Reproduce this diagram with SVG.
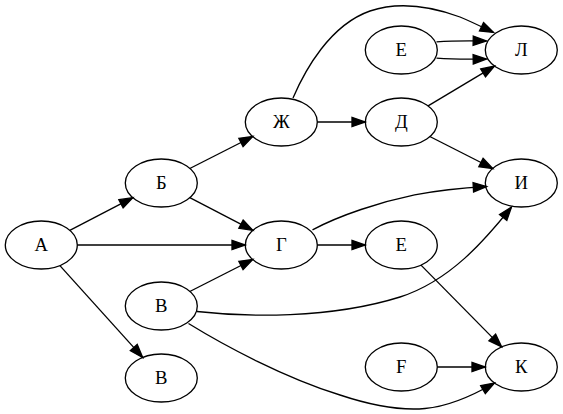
<svg xmlns="http://www.w3.org/2000/svg" width="563" height="414" viewBox="0 0 563 414">
<style>
.n ellipse{fill:none;stroke:#000;stroke-width:1.33}
.n text{font-family:"Liberation Serif","Times New Roman",serif;font-size:18.67px;text-anchor:middle;fill:#000}
.e path{fill:none;stroke:#000;stroke-width:1.33;marker-end:url(#ah)}
</style>
<defs>
<marker id="ah" markerUnits="userSpaceOnUse" markerWidth="16" markerHeight="12" refX="13.3" refY="5" orient="auto" overflow="visible">
<path d="M0,0.33 L13.3,5 L0,9.67 Z" fill="#000" stroke="#000" stroke-width="1.33"/>
</marker>
</defs>
<rect width="563" height="414" fill="#fff"/>
<g id="edges" class="e">
<path d="M69.8,230.3 L132.8,197.7"/>
<path d="M77.3,245 L245.3,245"/>
<path d="M59.9,265.6 L142.7,357.4"/>
<path d="M189.8,168.5 L252.8,136.5"/>
<path d="M189.8,197.7 L252.8,230.3"/>
<path d="M189.8,291.5 L252.8,259.5"/>
<path d="M197,311.5 C245,317 330,319 400,297 C450,281 485,240 511.5,207"/>
<path d="M188.5,323.5 C225,346 285,378 340,395 C370,405 398,411 425,408.5 C448,406.5 472,396 494.5,383"/>
<path d="M317.3,122 L365.3,122"/>
<path d="M293,98 C305,70 330,25 370,11 C400,1 430,6 460,17 C472,22 482,27 493.5,32.5"/>
<path d="M436.5,41.8 C451,40.8 467,40.6 486.5,41"/>
<path d="M436.5,58.2 C451,59.2 467,59.4 486.5,59"/>
<path d="M428.1,105.9 L494.5,66.1"/>
<path d="M429.8,136.5 L492.8,168.5"/>
<path d="M312.5,229.8 C340.5,215 379.8,202.1 414.6,194.9 C440,190 460,188 486.6,186.5"/>
<path d="M317.3,245 L365.3,245"/>
<path d="M421,265.1 L501.6,346.9"/>
<path d="M437.3,367 L485.3,367"/>
</g>
<g id="nA" class="n"><ellipse cx="41.3" cy="245" rx="36" ry="24"/><text x="41.3" y="251">А</text></g>
<g id="nB" class="n"><ellipse cx="161.3" cy="183" rx="36" ry="24"/><text x="161.3" y="189">Б</text></g>
<g id="nV1" class="n"><ellipse cx="161.3" cy="306" rx="36" ry="24"/><text x="161.3" y="312">В</text></g>
<g id="nV2" class="n"><ellipse cx="161.3" cy="378" rx="36" ry="24"/><text x="161.3" y="384">В</text></g>
<g id="nG" class="n"><ellipse cx="281.3" cy="245" rx="36" ry="24"/><text x="281.3" y="251">Г</text></g>
<g id="nZh" class="n"><ellipse cx="281.3" cy="122" rx="36" ry="24"/><text x="281.3" y="128">Ж</text></g>
<g id="nD" class="n"><ellipse cx="401.3" cy="122" rx="36" ry="24"/><text x="401.3" y="128">Д</text></g>
<g id="nE1" class="n"><ellipse cx="401.3" cy="50" rx="36" ry="24"/><text x="401.3" y="56">Е</text></g>
<g id="nE2" class="n"><ellipse cx="401.3" cy="245" rx="36" ry="24"/><text x="401.3" y="251">Е</text></g>
<g id="nF" class="n"><ellipse cx="401.3" cy="367" rx="36" ry="24"/><text x="401.3" y="373">F</text></g>
<g id="nL" class="n"><ellipse cx="521.3" cy="50" rx="36" ry="24"/><text x="521.3" y="56">Л</text></g>
<g id="nI" class="n"><ellipse cx="521.3" cy="183" rx="36" ry="24"/><text x="521.3" y="189">И</text></g>
<g id="nK" class="n"><ellipse cx="521.3" cy="367" rx="36" ry="24"/><text x="521.3" y="373">К</text></g>
</svg>
